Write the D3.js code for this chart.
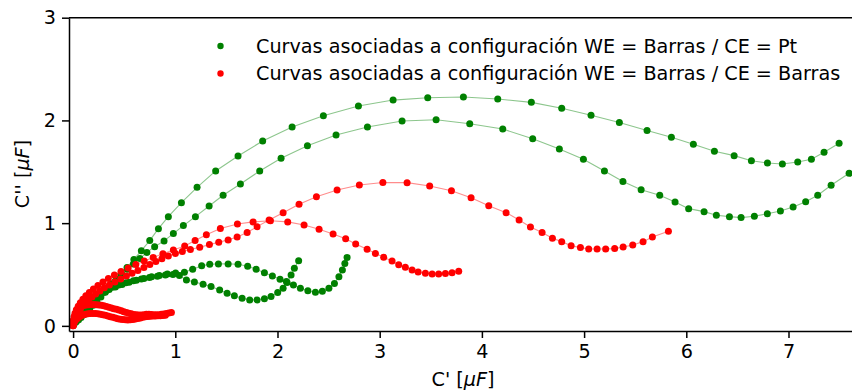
<!DOCTYPE html>
<html>
<head>
<meta charset="utf-8">
<script src="https://cdn.jsdelivr.net/npm/d3@7"></script>
<style>
  html, body { margin: 0; padding: 0; background: #fff; }
  svg { display: block; font-family: "DejaVu Sans", sans-serif; }
</style>
</head>
<body>
<svg id="chart" width="852" height="390"></svg>
<script>
// Nyquist-type capacitance curves: C'' against C' (μF)

const xTicks = [0, 1, 2, 3, 4, 5, 6, 7];
const yTicks = [0, 1, 2, 3];

const legendLabels = [
  "Curvas asociadas a configuración WE = Barras / CE = Pt",
  "Curvas asociadas a configuración WE = Barras / CE = Barras"
];

// WE = Barras / CE = Pt — curve 1 (upper large arc)
const ptCurve1 = [
  [0.011,0.020],[0.031,0.039],[0.054,0.059],[0.078,0.082],[0.105,0.107],[0.133,0.135],
  [0.163,0.166],[0.197,0.200],[0.233,0.238],[0.272,0.280],[0.315,0.327],[0.362,0.378],
  [0.413,0.436],[0.468,0.499],[0.528,0.569],[0.595,0.647],[0.668,0.732],[0.750,0.830],
  [0.835,0.946],[0.932,1.063],[1.060,1.199],[1.213,1.349],[1.395,1.508],[1.614,1.654],
  [1.855,1.800],[2.143,1.936],[2.449,2.046],[2.792,2.140],[3.131,2.198],[3.470,2.221],
  [3.819,2.228],[4.155,2.208],[4.484,2.176],[4.781,2.118],[5.068,2.050],[5.345,1.980],
  [5.616,1.902],[5.854,1.836],[6.069,1.768],[6.275,1.699],[6.468,1.657],[6.637,1.608],
  [6.794,1.586],[6.940,1.576],[7.090,1.595],[7.224,1.622],[7.348,1.690],[7.495,1.777]
];

// WE = Barras / CE = Pt — curve 2 (lower large arc)
const ptCurve2 = [
  [0.002,0.010],[0.009,0.027],[0.021,0.049],[0.036,0.070],[0.057,0.092],[0.079,0.117],
  [0.104,0.142],[0.130,0.169],[0.159,0.197],[0.189,0.228],[0.221,0.260],[0.256,0.294],
  [0.295,0.331],[0.336,0.370],[0.380,0.411],[0.427,0.454],[0.477,0.501],[0.531,0.550],
  [0.590,0.603],[0.654,0.657],[0.722,0.715],[0.798,0.771],[0.890,0.827],[0.981,0.898],
  [1.079,0.976],[1.197,1.063],[1.331,1.167],[1.468,1.271],[1.637,1.381],[1.826,1.508],
  [2.035,1.631],[2.293,1.754],[2.573,1.858],[2.880,1.936],[3.219,1.994],[3.552,2.007],
  [3.881,1.968],[4.204,1.916],[4.497,1.822],[4.758,1.722],[4.993,1.622],[5.199,1.508],
  [5.380,1.406],[5.558,1.326],[5.740,1.271],[5.890,1.206],[6.023,1.141],[6.174,1.112],
  [6.294,1.077],[6.422,1.063],[6.536,1.054],[6.666,1.067],[6.793,1.092],[6.921,1.119],
  [7.045,1.158],[7.168,1.209],[7.286,1.271],[7.417,1.369],[7.593,1.485]
];

// WE = Barras / CE = Pt — curve 3 (small arc, peak near 0.6)
const ptCurve3 = [
  [0.003,0.012],[0.011,0.031],[0.023,0.054],[0.040,0.088],[0.062,0.122],[0.089,0.158],
  [0.120,0.193],[0.157,0.229],[0.199,0.263],[0.246,0.296],[0.296,0.326],[0.353,0.354],
  [0.414,0.379],[0.479,0.403],[0.548,0.424],[0.619,0.444],[0.693,0.461],[0.768,0.477],
  [0.844,0.491],[0.923,0.504],[1.003,0.515],[1.089,0.522],[1.170,0.552],[1.258,0.584],
  [1.337,0.600],[1.422,0.603],[1.517,0.603],[1.614,0.600],[1.708,0.581],[1.791,0.552],
  [1.872,0.518],[1.950,0.486],[2.025,0.454],[2.087,0.431],[2.156,0.399],[2.224,0.367],
  [2.297,0.342],[2.371,0.328],[2.439,0.336],[2.503,0.365],[2.557,0.413],[2.601,0.477],
  [2.635,0.545],[2.659,0.608],[2.681,0.666]
];

// WE = Barras / CE = Pt — curve 4 (small arc, peak near 0.5)
const ptCurve4 = [
  [0.002,0.007],[0.008,0.024],[0.018,0.049],[0.032,0.078],[0.052,0.112],[0.076,0.146],
  [0.106,0.180],[0.140,0.214],[0.179,0.248],[0.223,0.282],[0.272,0.314],[0.326,0.345],
  [0.385,0.375],[0.448,0.399],[0.517,0.420],[0.590,0.440],[0.668,0.457],[0.747,0.472],
  [0.825,0.484],[0.903,0.496],[0.977,0.500],[1.040,0.490],[1.109,0.447],[1.187,0.428],
  [1.272,0.406],[1.350,0.382],[1.434,0.350],[1.507,0.318],[1.578,0.292],[1.654,0.269],
  [1.728,0.253],[1.800,0.253],[1.872,0.263],[1.937,0.285],[2.002,0.324],[2.055,0.367],
  [2.094,0.421],[2.133,0.496],[2.165,0.561],[2.207,0.635]
];

// WE = Barras / CE = Barras — curve 1 (peak near 1.4)
const barCurve1 = [
  [0.001,0.007],[0.006,0.024],[0.013,0.049],[0.023,0.078],[0.035,0.107],[0.052,0.136],
  [0.071,0.165],[0.094,0.195],[0.120,0.224],[0.150,0.253],[0.184,0.282],[0.221,0.311],
  [0.262,0.340],[0.306,0.370],[0.355,0.399],[0.409,0.428],[0.466,0.457],[0.522,0.486],
  [0.577,0.513],[0.634,0.540],[0.693,0.569],[0.751,0.598],[0.810,0.627],[0.869,0.654],
  [0.932,0.681],[1.001,0.705],[1.069,0.725],[1.148,0.744],[1.239,0.766],[1.334,0.791],
  [1.425,0.814],[1.517,0.837],[1.605,0.866],[1.703,0.908],[1.800,0.966],[1.918,1.031],
  [2.055,1.102],[2.211,1.184],[2.381,1.258],[2.583,1.323],[2.801,1.372],[3.031,1.396],
  [3.268,1.394],[3.489,1.362],[3.702,1.316],[3.894,1.248],[4.067,1.170],[4.237,1.102],
  [4.364,1.031],[4.475,0.963],[4.589,0.908],[4.690,0.853],[4.781,0.820],[4.873,0.781],
  [4.964,0.762],[5.045,0.749],[5.127,0.749],[5.211,0.749],[5.299,0.752],[5.382,0.768],
  [5.476,0.788],[5.577,0.820],[5.668,0.866],[5.825,0.921]
];

// WE = Barras / CE = Barras — curve 2 (peak near 1.0)
const barCurve2 = [
  [0.000,0.005],[0.000,0.024],[0.003,0.054],[0.009,0.088],[0.019,0.122],[0.032,0.156],
  [0.050,0.190],[0.071,0.224],[0.096,0.258],[0.125,0.292],[0.159,0.326],[0.199,0.360],
  [0.243,0.394],[0.292,0.428],[0.345,0.462],[0.404,0.496],[0.469,0.530],[0.539,0.564],
  [0.614,0.598],[0.696,0.632],[0.784,0.666],[0.879,0.702],[0.981,0.739],[1.092,0.778],
  [1.194,0.830],[1.304,0.888],[1.441,0.947],[1.608,0.992],[1.761,1.012],[1.931,1.024],
  [2.100,1.012],[2.260,0.982],[2.407,0.941],[2.544,0.895],[2.667,0.849],[2.765,0.798],
  [2.877,0.746],[2.958,0.705],[3.039,0.668],[3.121,0.632],[3.186,0.596],[3.251,0.571],
  [3.317,0.545],[3.376,0.525],[3.447,0.513],[3.513,0.506],[3.577,0.506],[3.643,0.509],
  [3.708,0.516],[3.773,0.532]
];

// WE = Barras / CE = Barras — curve 3 (small loop, upper branch)
const barCurve3 = [
  [0.000,0.000],[0.001,0.029],[0.006,0.058],[0.013,0.088],[0.023,0.117],[0.034,0.141],
  [0.049,0.162],[0.067,0.180],[0.086,0.193],[0.108,0.200],[0.130,0.204],[0.155,0.206],
  [0.179,0.207],[0.204,0.207],[0.228,0.206],[0.252,0.204],[0.277,0.200],[0.301,0.195],
  [0.326,0.188],[0.350,0.181],[0.375,0.174],[0.399,0.167],[0.424,0.161],[0.448,0.154],
  [0.473,0.146],[0.497,0.138],[0.522,0.130],[0.546,0.124],[0.570,0.117],[0.595,0.111],
  [0.619,0.107],[0.644,0.105],[0.668,0.106],[0.693,0.109],[0.717,0.112],[0.742,0.113],
  [0.766,0.111],[0.791,0.108],[0.815,0.107],[0.840,0.109],[0.864,0.112],[0.888,0.116],
  [0.913,0.120],[0.937,0.125],[0.962,0.129]
];

// WE = Barras / CE = Barras — curve 4 (small loop, lower branch)
const barCurve4 = [
  [0.000,0.000],[0.003,0.015],[0.011,0.034],[0.023,0.054],[0.037,0.070],[0.055,0.085],
  [0.074,0.096],[0.096,0.105],[0.120,0.112],[0.145,0.117],[0.169,0.120],[0.194,0.121],
  [0.218,0.120],[0.243,0.118],[0.267,0.114],[0.292,0.109],[0.316,0.103],[0.341,0.096],
  [0.365,0.089],[0.389,0.083],[0.414,0.076],[0.438,0.070],[0.463,0.065],[0.487,0.061],
  [0.512,0.059],[0.536,0.058],[0.561,0.059],[0.585,0.062],[0.610,0.066],[0.634,0.071],
  [0.659,0.077],[0.683,0.083],[0.707,0.088],[0.732,0.091],[0.756,0.094],[0.781,0.096],
  [0.805,0.097],[0.830,0.098],[0.854,0.099],[0.879,0.101],[0.903,0.104]
];

const GREEN = "#008000";
const RED = "#ff0000";

const seriesList = [
  { data: ptCurve1, color: GREEN },
  { data: ptCurve2, color: GREEN },
  { data: ptCurve3, color: GREEN },
  { data: ptCurve4, color: GREEN },
  { data: barCurve1, color: RED },
  { data: barCurve2, color: RED },
  { data: barCurve3, color: RED },
  { data: barCurve4, color: RED }
];

const svg = d3.select("#chart");
const FONT = 19.2;
const MARK_R = 3.5;

const x = d3.scaleLinear().domain([-0.04, 7.68]).range([69, 858]);
const y = d3.scaleLinear().domain([-0.05, 3]).range([331, 17.7]);

// curves: thin translucent connecting line + solid round markers
const line = d3.line().x(d => x(d[0])).y(d => y(d[1]));
const plot = svg.append("g");
seriesList.forEach(s => {
  plot.append("path")
    .datum(s.data)
    .attr("d", line)
    .attr("fill", "none")
    .attr("stroke", s.color)
    .attr("stroke-opacity", 0.45)
    .attr("stroke-width", 1.1);
  plot.append("g")
    .selectAll("circle")
    .data(s.data)
    .join("circle")
    .attr("cx", d => x(d[0]))
    .attr("cy", d => y(d[1]))
    .attr("r", MARK_R)
    .attr("fill", s.color);
});

// axes
const xAxis = svg.append("g")
  .attr("transform", "translate(0,331)")
  .call(d3.axisBottom(x).tickValues(xTicks).tickFormat(d3.format("d"))
    .tickSize(7).tickPadding(6).tickSizeOuter(0));
const yAxis = svg.append("g")
  .attr("transform", "translate(69,0)")
  .call(d3.axisLeft(y).tickValues(yTicks).tickFormat(d3.format("d"))
    .tickSize(7).tickPadding(6).tickSizeOuter(0));
[xAxis, yAxis].forEach(g => {
  g.select(".domain").attr("stroke", "#000").attr("stroke-width", 1.5);
  g.selectAll(".tick line").attr("stroke", "#000").attr("stroke-width", 1.5);
  g.selectAll(".tick text").attr("fill", "#000")
    .attr("font-size", FONT).attr("font-family", "DejaVu Sans");
});
// top spine
svg.append("line")
  .attr("x1", 69).attr("x2", 858).attr("y1", 17.7).attr("y2", 17.7)
  .attr("stroke", "#000").attr("stroke-width", 1.5);

// axis titles
const xTitle = svg.append("text")
  .attr("x", 463).attr("y", 386)
  .attr("text-anchor", "middle")
  .attr("font-size", FONT).attr("fill", "#000");
xTitle.append("tspan").text("C' [");
xTitle.append("tspan").attr("font-style", "italic").text("μF");
xTitle.append("tspan").text("]");

const yTitle = svg.append("text")
  .attr("transform", "translate(29,174) rotate(-90)")
  .attr("text-anchor", "middle")
  .attr("font-size", FONT).attr("fill", "#000");
yTitle.append("tspan").text("C'' [");
yTitle.append("tspan").attr("font-style", "italic").text("μF");
yTitle.append("tspan").text("]");

// legend
const legend = svg.append("g");
[GREEN, RED].forEach((c, i) => {
  const cy = 46 + i * 27.5;
  legend.append("circle").attr("cx", 220.5).attr("cy", cy).attr("r", 3.2).attr("fill", c);
  legend.append("text")
    .attr("x", 256).attr("y", cy)
    .attr("dy", "0.35em")
    .attr("font-size", FONT).attr("fill", "#000")
    .text(legendLabels[i]);
});
</script>
</body>
</html>
